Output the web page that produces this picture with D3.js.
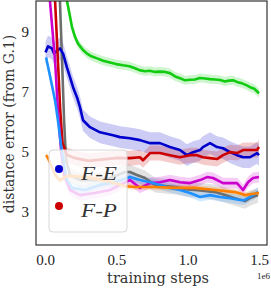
<!DOCTYPE html>
<html>
<head>
<meta charset="utf-8">
<script src="https://cdn.jsdelivr.net/npm/d3@7"></script>
<style>
body { margin: 0; background: #fff; }
text { font-family: "Liberation Serif", "DejaVu Serif", serif; fill: #222; }
.axis-title { font-family: "DejaVu Serif", serif; fill: #333; }
</style>
</head>
<body>
<script>
// training steps (x 1e6) and mean distance error per run
const greenSteps = [0.129, 0.150, 0.170, 0.186, 0.205, 0.228, 0.261, 0.291, 0.322, 0.361, 0.404, 0.452, 0.495, 0.543, 0.587, 0.627, 0.658, 0.697, 0.730, 0.767, 0.801, 0.838, 0.872, 0.908, 0.943, 0.978, 1.015, 1.047, 1.081, 1.118, 1.152, 1.188, 1.223, 1.258, 1.284, 1.314, 1.346, 1.377, 1.407, 1.433, 1.463, 1.496];
const greenMean = [11.2, 10.03, 9.55, 9.14, 8.85, 8.6, 8.4, 8.27, 8.18, 8.11, 8.03, 7.97, 7.92, 7.88, 7.85, 7.78, 7.72, 7.68, 7.70, 7.66, 7.67, 7.66, 7.62, 7.51, 7.45, 7.38, 7.40, 7.41, 7.46, 7.44, 7.42, 7.41, 7.39, 7.34, 7.37, 7.38, 7.32, 7.28, 7.22, 7.15, 7.1, 6.95];

const blueSteps = [0, 0.018, 0.045, 0.060, 0.081, 0.101, 0.123, 0.150, 0.172, 0.193, 0.221, 0.242, 0.263, 0.312, 0.382, 0.473, 0.522, 0.592, 0.662, 0.733, 0.802, 0.872, 0.942, 0.991, 1.034, 1.083, 1.103, 1.153, 1.202, 1.244, 1.293, 1.342, 1.384, 1.433, 1.482, 1.496];
const blueMean = [8.31, 8.51, 8.44, 8.27, 8.37, 8.44, 8.27, 7.81, 7.48, 7.15, 6.81, 6.48, 6.05, 5.82, 5.65, 5.55, 5.49, 5.45, 5.39, 5.29, 5.29, 5.16, 5.06, 4.89, 4.99, 5.06, 5.16, 5.29, 5.16, 5.12, 4.99, 4.89, 4.82, 4.82, 4.96, 4.89];

const redSteps = [0.037, 0.067, 0.087, 0.103, 0.119, 0.149, 0.200, 0.302, 0.404, 0.506, 0.592, 0.662, 0.683, 0.733, 0.802, 0.872, 0.942, 1.013, 1.061, 1.103, 1.153, 1.202, 1.244, 1.293, 1.342, 1.384, 1.433, 1.482, 1.496];
const redMean = [11.5, 10.03, 8.04, 6.4, 5.3, 4.9, 4.8, 4.7, 4.75, 4.8, 4.79, 4.82, 4.72, 4.96, 4.96, 4.89, 4.82, 4.89, 4.89, 4.82, 4.79, 4.76, 4.89, 4.99, 4.96, 5.06, 5.06, 5.06, 5.16];

const magentaSteps = [0.017, 0.031, 0.067, 0.087, 0.109, 0.130, 0.172, 0.242, 0.347, 0.452, 0.522, 0.592, 0.662, 0.733, 0.802, 0.872, 0.942, 1.013, 1.083, 1.132, 1.174, 1.244, 1.342, 1.384, 1.419, 1.454, 1.496];
const magentaMean = [11.0, 10.03, 8.04, 6.38, 5.06, 4.23, 3.73, 3.56, 3.63, 3.73, 3.9, 4.06, 3.8, 3.96, 3.99, 4.06, 3.99, 3.96, 4.06, 4.16, 4.13, 3.96, 3.96, 3.73, 3.99, 4.13, 4.16];

const skySteps = [0.004, 0.031, 0.067, 0.087, 0.109, 0.130, 0.150, 0.186, 0.277, 0.382, 0.487, 0.592, 0.662, 0.733, 0.802, 0.872, 0.942, 1.013, 1.083, 1.153, 1.223, 1.293, 1.363, 1.398, 1.433, 1.489];
const skyMean = [8.14, 7.54, 6.71, 6.05, 5.22, 4.56, 4.06, 3.8, 3.73, 3.9, 3.99, 4.16, 4.06, 3.99, 3.9, 3.8, 3.73, 3.63, 3.5, 3.56, 3.5, 3.46, 3.4, 3.4, 3.5, 3.66];

const graySteps = [0.068, 0.101, 0.116, 0.130, 0.144, 0.172, 0.242, 0.347, 0.452, 0.557, 0.592, 0.641, 0.697, 0.767, 0.838, 0.908, 0.978, 1.047, 1.118, 1.188, 1.258, 1.328, 1.398, 1.433, 1.489];
const grayMean = [11.0, 10.03, 8.04, 6.05, 4.72, 4.23, 4.06, 4.06, 4.13, 4.33, 4.33, 4.23, 4.13, 3.9, 3.86, 3.83, 3.76, 3.73, 3.7, 3.66, 3.56, 3.46, 3.36, 3.46, 3.56];

const orangeSteps = [0.004, 0.018, 0.038, 0.067, 0.101, 0.149, 0.302, 0.455, 0.557, 0.627, 0.767, 0.908, 1.047, 1.188, 1.328, 1.398, 1.446, 1.496];
const orangeMean = [4.89, 4.79, 4.56, 4.23, 4.05, 4.2, 4.15, 4.0, 3.86, 3.83, 3.83, 3.8, 3.8, 3.73, 3.66, 3.56, 3.6, 3.63];

const runNames = ["gray", "green", "blue", "red", "magenta", "sky", "orange"];
const runColors = ["#6e6e6e", "#11cc11", "#0000cc", "#cc0000", "#cc00cc", "#1e90ff", "#ff8000"];
const runSpread = [0.25, 0.15, 0.36, 0.25, 0.18, 0.15, 0.1];

const legendLabels = ["F-E", "F-P"];
const legendColors = ["#0000cc", "#cc0000"];

const xTicks = [0, 0.5, 1.0, 1.5];
const yTicks = [3, 5, 7, 9];

const runs = {
    gray: [graySteps, grayMean],
    green: [greenSteps, greenMean],
    blue: [blueSteps, blueMean],
    red: [redSteps, redMean],
    magenta: [magentaSteps, magentaMean],
    sky: [skySteps, skyMean],
    orange: [orangeSteps, orangeMean],
};

const W = 271, H = 289;
const plotLeft = 36, plotRight = 267, plotTop = 1, plotBottom = 245;

const x = d3.scaleLinear().domain([-0.0666, 1.552]).range([plotLeft, plotRight]);
const y = d3.scaleLinear().domain([1.9, 10.02]).range([plotBottom, plotTop]);

const svg = d3.select("body").append("svg")
.attr("width", W)
.attr("height", H);

svg.append("defs").append("clipPath")
.attr("id", "plot-clip")
.append("rect")
.attr("x", plotLeft)
.attr("y", plotTop)
.attr("width", plotRight - plotLeft)
.attr("height", plotBottom - plotTop);

const plot = svg.append("g").attr("clip-path", "url(#plot-clip)");

const line = d3.line()
.x(d => x(d[0]))
.y(d => y(d[1]));

const band = d3.area()
.x(d => x(d[0]))
.y0(d => y(d[1] - d[2]))
.y1(d => y(d[1] + d[2]));

// shaded spread first, then mean lines
runNames.forEach((name, i) => {
    const pts = runs[name][0].map((s, j) => [s, runs[name][1][j], runSpread[i]]);
    plot.append("path")
    .datum(pts)
    .attr("d", band)
    .style("fill", runColors[i])
    .style("opacity", 0.2)
    .style("stroke", "none");
});

runNames.forEach((name, i) => {
    const pts = runs[name][0].map((s, j) => [s, runs[name][1][j]]);
    plot.append("path")
    .datum(pts)
    .attr("d", line)
    .style("fill", "none")
    .style("stroke", runColors[i])
    .style("stroke-width", 2.6)
    .style("stroke-linejoin", "round");
});

// frame
svg.append("rect")
.attr("x", plotLeft)
.attr("y", plotTop)
.attr("width", plotRight - plotLeft)
.attr("height", plotBottom - plotTop)
.style("fill", "none")
.style("stroke", "#333")
.style("stroke-width", 1.2);

// tick labels
svg.selectAll(".xtick")
.data(xTicks)
.enter().append("text")
.attr("class", "xtick")
.attr("x", d => x(d))
.attr("y", 265)
.attr("text-anchor", "middle")
.style("font-size", "15px")
.text(d => d.toFixed(1));

svg.selectAll(".ytick")
.data(yTicks)
.enter().append("text")
.attr("class", "ytick")
.attr("x", 29)
.attr("y", d => y(d))
.attr("dy", "0.35em")
.attr("text-anchor", "end")
.style("font-size", "15px")
.text(d => d);

svg.append("text")
.attr("class", "axis-title")
.attr("x", 158)
.attr("y", 283)
.attr("text-anchor", "middle")
.style("font-size", "14.5px")
.text("training steps");

svg.append("text")
.attr("x", 270)
.attr("y", 279)
.attr("text-anchor", "end")
.style("font-size", "9px")
.text("1e6");

svg.append("text")
.attr("class", "axis-title")
.attr("transform", "translate(14,124) rotate(-90)")
.attr("text-anchor", "middle")
.style("font-size", "14px")
.text("distance error (from G.1)");

// legend
const legend = svg.append("g");
legend.append("rect")
.attr("x", 49)
.attr("y", 150)
.attr("width", 78)
.attr("height", 82)
.attr("rx", 4)
.style("fill", "#fff")
.style("fill-opacity", 0.8)
.style("stroke", "#d8d8d8")
.style("stroke-width", 1);

const entries = legend.selectAll(".entry")
.data(legendLabels)
.enter().append("g")
.attr("class", "entry")
.attr("transform", (d, i) => "translate(0," + (i * 37) + ")");

entries.append("circle")
.attr("cx", 59)
.attr("cy", 169)
.attr("r", 4)
.style("fill", (d, i) => legendColors[i]);

entries.append("text")
.attr("x", 81)
.attr("y", 180)
.attr("textLength", 36)
.attr("lengthAdjust", "spacingAndGlyphs")
.style("font-size", "19px")
.style("font-style", "italic")
.style("fill", "#333")
.text(d => d);
</script>
</body>
</html>
